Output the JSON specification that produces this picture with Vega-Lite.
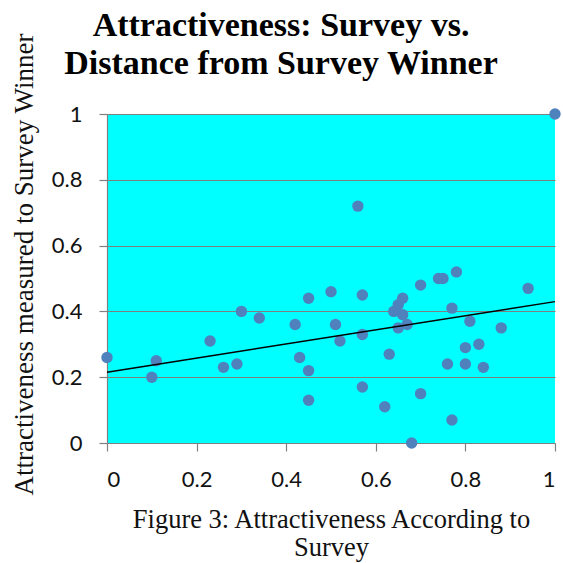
{
  "$schema": "https://vega.github.io/schema/vega-lite/v6.json",
  "width": 448,
  "height": 329,
  "autosize": "none",
  "padding": {"left": 107, "top": 114, "right": 8, "bottom": 120},
  "background": "white",
  "title": {
    "text": ["Attractiveness: Survey vs.", "Distance from Survey Winner"],
    "font": "Liberation Serif",
    "fontSize": 34,
    "fontWeight": "bold",
    "color": "black",
    "anchor": "middle",
    "frame": "group",
    "dx": -50,
    "lineHeight": 38,
    "offset": -48
  },
  "config": {
    "view": {"fill": "#00ffff", "stroke": null},
    "axis": {
      "gridColor": "#808080",
      "gridWidth": 1.2,
      "domainColor": "#808080",
      "domainWidth": 1.2,
      "tickColor": "#808080",
      "tickWidth": 1.2,
      "tickSize": 8,
      "labelFont": "Lato",
      "labelFontSize": 22,
      "labelColor": "#111111",
      "titleFont": "Liberation Serif",
      "titleFontWeight": "normal",
      "titleColor": "#111111"
    }
  },
  "datasets": {
    "pts": [
      {"x": 0, "y": 0.26}, {"x": 0.11, "y": 0.25}, {"x": 0.10, "y": 0.20}, {"x": 0.23, "y": 0.31},
      {"x": 0.26, "y": 0.23}, {"x": 0.29, "y": 0.24}, {"x": 0.30, "y": 0.40}, {"x": 0.34, "y": 0.38},
      {"x": 0.42, "y": 0.36}, {"x": 0.43, "y": 0.26}, {"x": 0.45, "y": 0.22}, {"x": 0.45, "y": 0.13},
      {"x": 0.45, "y": 0.44}, {"x": 0.50, "y": 0.46}, {"x": 0.51, "y": 0.36}, {"x": 0.52, "y": 0.31},
      {"x": 0.56, "y": 0.72}, {"x": 0.57, "y": 0.45}, {"x": 0.57, "y": 0.33}, {"x": 0.57, "y": 0.17},
      {"x": 0.62, "y": 0.11}, {"x": 0.63, "y": 0.27}, {"x": 0.64, "y": 0.40}, {"x": 0.65, "y": 0.42},
      {"x": 0.66, "y": 0.44}, {"x": 0.66, "y": 0.39}, {"x": 0.65, "y": 0.35}, {"x": 0.67, "y": 0.36},
      {"x": 0.68, "y": 0.0}, {"x": 0.70, "y": 0.48}, {"x": 0.70, "y": 0.15}, {"x": 0.74, "y": 0.50},
      {"x": 0.75, "y": 0.50}, {"x": 0.76, "y": 0.24}, {"x": 0.77, "y": 0.41}, {"x": 0.77, "y": 0.07},
      {"x": 0.78, "y": 0.52}, {"x": 0.80, "y": 0.29}, {"x": 0.80, "y": 0.24}, {"x": 0.81, "y": 0.37},
      {"x": 0.83, "y": 0.30}, {"x": 0.84, "y": 0.23}, {"x": 0.88, "y": 0.35}, {"x": 0.94, "y": 0.47},
      {"x": 1, "y": 1}
    ]
  },
  "data": {"name": "pts"},
  "encoding": {
    "x": {
      "field": "x", "type": "quantitative",
      "scale": {"domain": [0, 1], "nice": false, "zero": false},
      "axis": {
        "values": [0, 0.2, 0.4, 0.6, 0.8, 1],
        "format": ".1~f",
        "grid": false,
        "labelPadding": 18,
        "title": ["Figure 3: Attractiveness According to", "Survey"],
        "titleFontSize": 26.5,
        "titleLineHeight": 28,
        "titleBaseline": "alphabetic",
        "titleY": 84
      }
    },
    "y": {
      "field": "y", "type": "quantitative",
      "scale": {"domain": [0, 1], "nice": false, "zero": false},
      "axis": {
        "values": [0, 0.2, 0.4, 0.6, 0.8, 1],
        "format": ".1~f",
        "grid": true,
        "labelPadding": 17,
        "title": "Attractiveness measured to Survey Winner",
        "titleFontSize": 27,
        "titleAngle": -90,
        "titleBaseline": "alphabetic",
        "titleAlign": "center",
        "titleX": -75,
        "titleY": 150
      }
    }
  },
  "layer": [
    {
      "mark": {"type": "point", "filled": true, "shape": "circle", "size": 130, "color": "#4f81bd", "opacity": 1}
    },
    {
      "transform": [{"regression": "y", "on": "x", "extent": [0, 1]}],
      "mark": {"type": "line", "color": "black", "strokeWidth": 1.5}
    }
  ]
}
